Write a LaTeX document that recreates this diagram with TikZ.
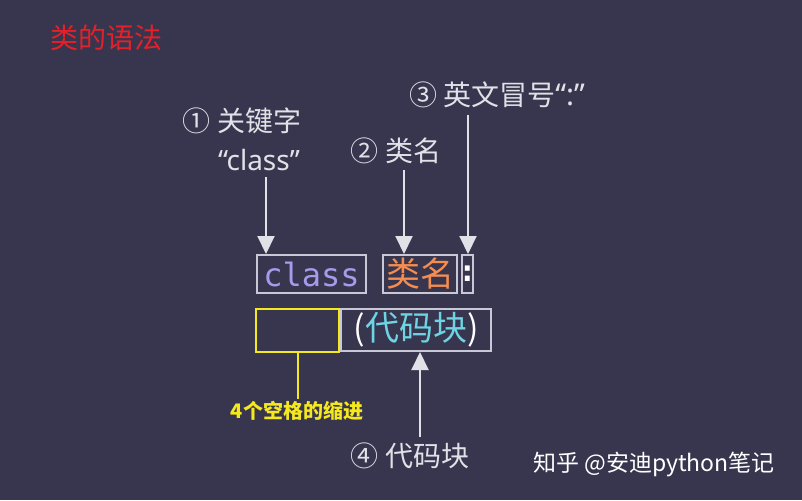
\documentclass[tikz,border=0pt]{standalone}
\usepackage{fontspec}
\setmainfont{Noto Sans CJK SC}
\newfontfamily\latinfont{Noto Sans}
\newfontfamily\codefont{DejaVu Sans Mono}
\usetikzlibrary{arrows.meta}

\definecolor{bgnavy}{RGB}{56,54,78}
\definecolor{labelgray}{RGB}{225,225,232}
\definecolor{boxgray}{RGB}{200,200,215}
\definecolor{kwpurple}{RGB}{165,155,235}
\definecolor{nameorange}{RGB}{245,140,80}
\definecolor{codecyan}{RGB}{110,212,228}
\definecolor{indentyellow}{RGB}{245,232,30}
\definecolor{titlered}{RGB}{230,32,40}

\newcommand{\fsz}[1]{\fontsize{#1}{#1}\selectfont}

\tikzset{
  lbltext/.style={text=labelgray, font=\fsz{28}, inner sep=0pt},
  codebox/.style={draw=boxgray, line width=2pt, inner sep=0pt, minimum height=38pt},
  pointer/.style={draw=labelgray, line width=2pt, -{Triangle[width=17pt,length=18pt]}},
}

\begin{document}
\begin{tikzpicture}[x=1pt, y=-1pt]
\fill[bgnavy] (0,0) rectangle (802,500);
\useasboundingbox (0,0) rectangle (802,500);

% title
\node[text=titlered, font=\fsz{28}, inner sep=0pt] (title) at (106,38) {类的语法};

% labels
\node[lbltext] (kwlbl) at (242,121) {① 关键字};
\node[lbltext] (kwquote) at (259,160) {\latinfont “class”};
\node[lbltext] (namelbl) at (396,151) {② 类名};
\node[lbltext] (colonlbl) at (497,95) {③ 英文冒号{\latinfont\fsz{30}“:”}};
\node[lbltext] (codelbl) at (410,456) {④ 代码块};

% first line: class name:
\node[codebox, minimum width=109pt, text=kwpurple, font=\codefont\fsz{32}] (cls) at (311.5,274) {class};
\node[codebox, minimum width=74pt, text=nameorange, font=\fsz{34}] (name) at (420,274) {类名};
\node[codebox, minimum width=11pt, text=white, font=\codefont\bfseries\fsz{30}] (colon) at (467.5,274) {\makebox[0pt]{:}};

% second line: indent + block
\node[draw=indentyellow, line width=2pt, minimum width=83pt, minimum height=43pt, inner sep=0pt] (indent) at (297.5,330.5) {};
\node[codebox, minimum width=150pt, minimum height=42pt, font=\fsz{34}] (code) at (416,330) {\textcolor{white}{(}\textcolor{codecyan}{代码块}\textcolor{white}{)}};

\node[text=indentyellow, font=\fsz{20}\bfseries, inner sep=0pt] (indentlbl) at (297,411) {4个空格的缩进};
\node[text=white, font=\fsz{23}, inner sep=0pt] (mark) at (654,464) {知乎 @安迪python笔记};

% pointers
\coordinate (p1) at (266,177);
\coordinate (p2) at (404,170);
\coordinate (p3) at (468,115);
\coordinate (p4) at (420,437);
\draw[pointer] (p1) -- (p1 |- cls.north);
\draw[pointer] (p2) -- (p2 |- name.north);
\draw[pointer] (p3) -- (p3 |- colon.north);
\draw[pointer] (p4) -- (p4 |- code.south);
\draw[indentyellow, line width=2pt] (indent.south) -- ++(0,46);
\end{tikzpicture}
\end{document}
